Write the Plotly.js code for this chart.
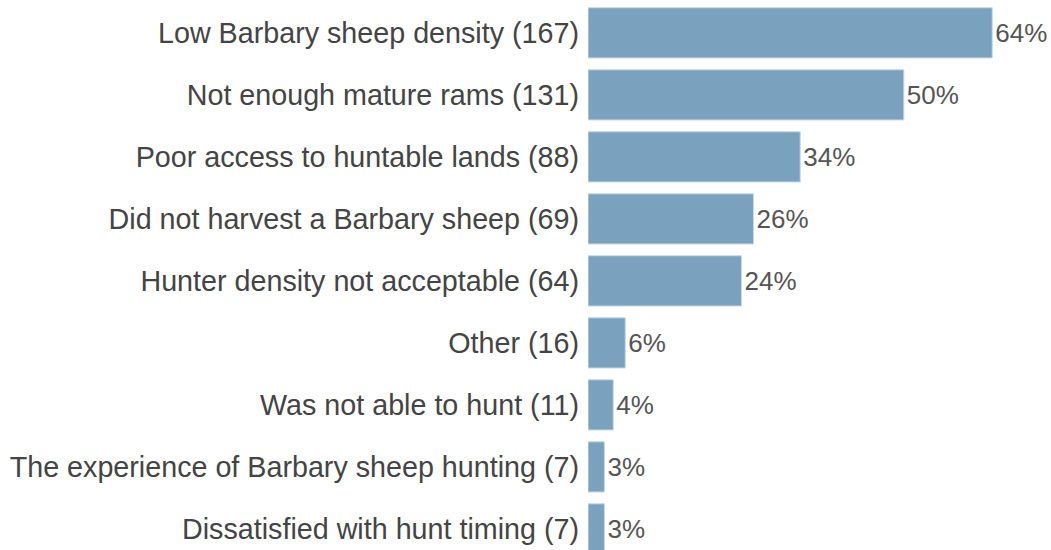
<!DOCTYPE html>
<html>
<head>
<meta charset="utf-8">
<script src="https://cdn.plot.ly/plotly-3.0.1.min.js"></script>
<style>html,body{margin:0;padding:0;background:#fff;}#chart{width:1051px;height:550px;}</style>
</head>
<body>
<div id="chart"></div>
<script>
const categories = [
  "Low Barbary sheep density (167)",
  "Not enough mature rams (131)",
  "Poor access to huntable lands (88)",
  "Did not harvest a Barbary sheep (69)",
  "Hunter density not acceptable (64)",
  "Other (16)",
  "Was not able to hunt (11)",
  "The experience of Barbary sheep hunting (7)",
  "Dissatisfied with hunt timing (7)"
];
const percentValues = [64, 50, 33.6, 26.2, 24.3, 5.9, 4.0, 2.6, 2.6];
const percentLabels = ["64%", "50%", "34%", "26%", "24%", "6%", "4%", "3%", "3%"];

const trace = {
  type: "bar",
  orientation: "h",
  y: categories,
  x: percentValues,
  text: percentLabels,
  textposition: "outside",
  cliponaxis: false,
  constraintext: "none",
  textfont: {family: "Liberation Sans, Arial, sans-serif", size: 26, color: "#555555"},
  marker: {color: "#7aa2bf", line: {color: "#c9d9e6", width: 1}},
  hoverinfo: "none"
};

const layout = {
  width: 1051,
  height: 550,
  margin: {l: 588, r: 0, t: 0, b: 0, pad: 0},
  paper_bgcolor: "#ffffff",
  plot_bgcolor: "#ffffff",
  showlegend: false,
  bargap: 0.19,
  font: {family: "Liberation Sans, Arial, sans-serif", size: 26, color: "#404040"},
  xaxis: {range: [0, 73.3], visible: false, fixedrange: true},
  yaxis: {
    type: "category",
    range: [8.34, -0.53],
    showgrid: false,
    zeroline: false,
    showline: false,
    ticks: "",
    ticklabelstandoff: 8,
    tickfont: {family: "Liberation Sans, Arial, sans-serif", size: 28.7, color: "#444444"},
    automargin: false,
    fixedrange: true
  }
};

Plotly.newPlot("chart", [trace], layout, {displayModeBar: false, staticPlot: true});
</script>
</body>
</html>
